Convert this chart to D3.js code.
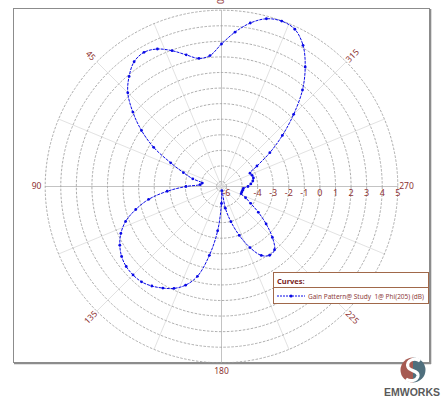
<!DOCTYPE html>
<html>
<head>
<meta charset="utf-8">
<script src="https://cdn.jsdelivr.net/npm/d3@7"></script>
<style>
  html, body { margin: 0; padding: 0; background: #fff; }
  svg { display: block; font-family: 'Noto Sans', 'DejaVu Sans', sans-serif; }
</style>
</head>
<body>
<svg id="polar" width="443" height="398"></svg>
<script>
// theta (deg) and gain (dB)
const thetaDeg = [0, 5, 10, 15, 20, 25, 30, 35, 40, 45, 50, 55, 60, 65, 70, 75, 80, 85,
  90, 95, 100, 105, 110, 115, 120, 125, 130, 135, 140, 145, 150, 155, 160, 165, 170, 175,
  180, 185, 190, 195, 200, 205, 210, 215, 220, 225, 230, 235, 240, 245, 250, 255, 260, 265,
  270, 275, 280, 285, 290, 295, 300, 305, 310, 315, 320, 325, 330, 335, 340, 345, 350, 355];
const gainDb = [2.83, 2.12, 2.03, 2.43, 2.96, 3.42, 3.63, 3.46, 2.91, 2.19, 1.11, -0.05, -1.29, -2.72, -3.72, -4.41, -5.07, -4.94,
  -4.04, -2.82, -1.57, -0.62, 0.23, 0.81, 1.22, 1.51, 1.67, 1.71, 1.67, 1.48, 1.21, 0.90, 0.42, -0.35, -1.83, -3.46,
  -5.23, -6.06, -4.91, -3.98, -2.98, -1.99, -1.21, -0.93, -1.02, -1.70, -2.58, -3.43, -4.16, -4.61, -4.98, -4.97, -4.94, -4.91,
  -4.62, -4.43, -4.28, -4.20, -4.23, -4.30, -3.69, -2.53, -1.22, 0.23, 1.77, 3.05, 4.15, 4.82, 4.98, 4.83, 4.34, 3.63];

const ringValues = [-6, -5, -4, -3, -2, -1, 0, 1, 2, 3, 4, 5];
const ringLabels = [-6, -4, -3, -2, -1, 0, 1, 2, 3, 4, 5];
const angleLabels = [0, 45, 90, 135, 180, 225, 270, 315];
const spokeAngles = d3.range(0, 360, 22.5);
const curveName = 'Gain Pattern@ Study  1@ Phi(205) (dB)';

// region size
const cx = 221.5;
const cy = 186.5;
const outerR = 176.3;
const labelR = 185;
// endregion

const labelColor = '#8e3232';
const curveColor = '#0a0ae6';

const svg = d3.select('#polar');

const r = d3.scaleLinear()
  .domain([-6.32, 5])
  .range([0, outerR]);

const toRad = d => d * Math.PI / 180;
// theta grows counter-clockwise from the top
const px = (deg, rad) => cx - rad * Math.sin(toRad(deg));
const py = (deg, rad) => cy - rad * Math.cos(toRad(deg));

// plot frame
svg.append('rect')
  .attr('x', 13.5).attr('y', 8.5)
  .attr('width', 416).attr('height', 354)
  .attr('fill', '#fff')
  .attr('stroke', '#8c8c8c');
svg.append('path')
  .attr('d', 'M430.5,9V364M14,363.5H431')
  .attr('stroke', '#8c8c8c')
  .attr('stroke-width', 1.6)
  .attr('fill', 'none');

const grid = svg.append('g');

grid.selectAll('line.spoke')
  .data(spokeAngles)
  .join('line')
  .attr('class', 'spoke')
  .attr('x1', cx).attr('y1', cy)
  .attr('x2', d => px(d, outerR))
  .attr('y2', d => py(d, outerR))
  .attr('stroke', d => d % 90 === 0 ? '#b4b4b4' : '#dadada')
  .attr('stroke-width', 0.8);

grid.selectAll('circle.ring')
  .data(ringValues)
  .join('circle')
  .attr('class', 'ring')
  .attr('cx', cx).attr('cy', cy)
  .attr('r', d => r(d))
  .attr('fill', 'none')
  .attr('stroke', '#989898')
  .attr('stroke-width', 0.8)
  .attr('stroke-dasharray', '2.5,1.5');

// radial tick labels along 270
svg.append('g')
  .selectAll('text')
  .data(ringLabels)
  .join('text')
  .attr('x', d => px(270, r(d)))
  .attr('y', cy + 9)
  .attr('text-anchor', 'middle')
  .attr('font-size', 9)
  .attr('fill', labelColor)
  .text(d => d);

// angle labels, turned to follow the radius
const rot = d => {
  if (d === 0) return -90;
  if (d === 45 || d === 225) return 45;
  if (d === 135 || d === 315) return -45;
  return 0;
};
svg.append('g')
  .selectAll('text')
  .data(angleLabels)
  .join('text')
  .attr('transform', d => `translate(${px(d, labelR)},${py(d, labelR)}) rotate(${rot(d)})`)
  .attr('text-anchor', 'middle')
  .attr('dy', '0.35em')
  .attr('font-size', 8.5)
  .attr('fill', labelColor)
  .text(d => d);

// the pattern
const points = thetaDeg.map((t, i) => ({theta: t, gain: gainDb[i]}));

const line = d3.lineRadial()
  .angle(d => -toRad(d.theta))
  .radius(d => r(d.gain))
  .curve(d3.curveCatmullRomClosed.alpha(0.5));

const plot = svg.append('g')
  .attr('transform', `translate(${cx},${cy})`);

plot.append('path')
  .datum(points)
  .attr('d', line)
  .attr('fill', 'none')
  .attr('stroke', curveColor)
  .attr('stroke-width', 1)
  .attr('stroke-dasharray', '3,1');

plot.selectAll('circle')
  .data(points)
  .join('circle')
  .attr('cx', d => -r(d.gain) * Math.sin(toRad(d.theta)))
  .attr('cy', d => -r(d.gain) * Math.cos(toRad(d.theta)))
  .attr('r', 1.4)
  .attr('fill', curveColor);

// legend
const legend = svg.append('g');
legend.append('rect')
  .attr('x', 273.5).attr('y', 272.5)
  .attr('width', 155).attr('height', 31)
  .attr('fill', '#fff')
  .attr('stroke', '#a0684a');
legend.append('line')
  .attr('x1', 273.5).attr('x2', 428.5)
  .attr('y1', 287.5).attr('y2', 287.5)
  .attr('stroke', '#a0684a');
legend.append('text')
  .attr('x', 277).attr('y', 284)
  .attr('font-size', 7.5)
  .attr('font-weight', 'bold')
  .attr('fill', '#7a1e1e')
  .text('Curves:');
legend.append('line')
  .attr('x1', 277).attr('x2', 305)
  .attr('y1', 296).attr('y2', 296)
  .attr('stroke', curveColor)
  .attr('stroke-dasharray', '2,1');
legend.append('circle')
  .attr('cx', 291).attr('cy', 296)
  .attr('r', 1.5)
  .attr('fill', curveColor);
legend.append('text')
  .attr('x', 308).attr('y', 298.8)
  .attr('font-size', 7.3)
  .attr('fill', '#8e3c3c')
  .attr('textLength', 116)
  .attr('lengthAdjust', 'spacingAndGlyphs')
  .style('white-space', 'pre')
  .text(curveName);

// EMWORKS mark
const logo = svg.append('g')
  .attr('transform', 'translate(413,370)');
logo.append('path')
  .attr('d', d3.arc()({innerRadius: 0, outerRadius: 12.5, startAngle: Math.PI, endAngle: 2 * Math.PI}))
  .attr('fill', '#a65a52');
logo.append('path')
  .attr('d', d3.arc()({innerRadius: 0, outerRadius: 12.5, startAngle: 0, endAngle: Math.PI}))
  .attr('fill', '#4f6f7d');
logo.append('path')
  .attr('d', 'M7,-9C2,-13 -7,-10 -5,-3C-3,2 6,0 5,6C4,11 -3,12 -7,9')
  .attr('fill', 'none')
  .attr('stroke', '#fff')
  .attr('stroke-width', 3.2);
svg.append('text')
  .attr('x', 412).attr('y', 396)
  .attr('text-anchor', 'middle')
  .attr('font-size', 10.5)
  .attr('font-weight', 'bold')
  .attr('font-family', 'Liberation Sans, Arial, sans-serif')
  .attr('fill', '#5a5a5a')
  .text('EMWORKS');
</script>
</body>
</html>
